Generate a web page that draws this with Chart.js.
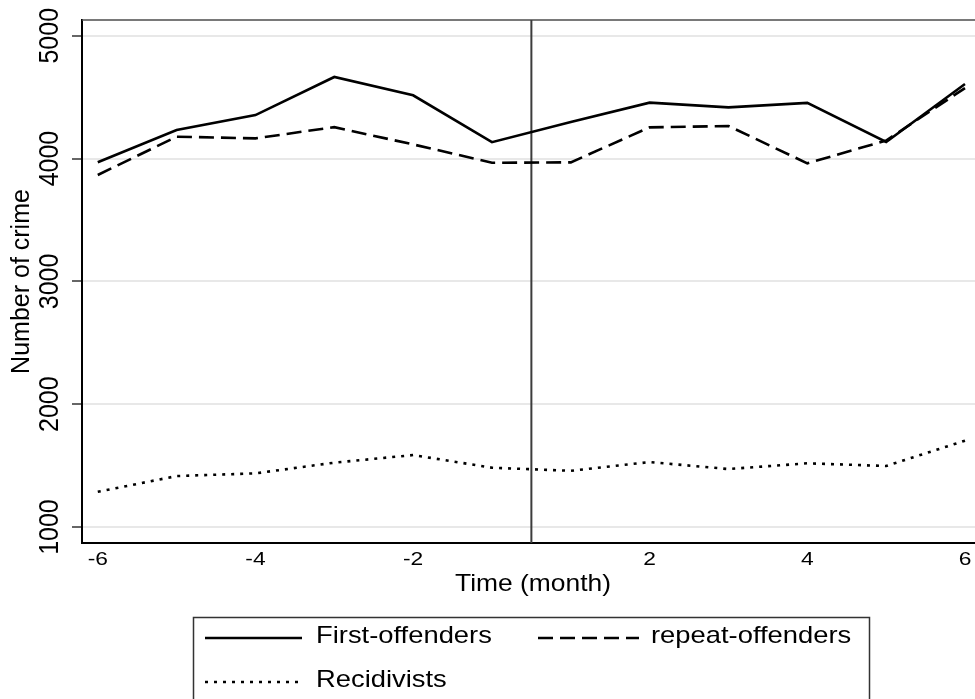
<!DOCTYPE html>
<html>
<head>
<meta charset="utf-8">
<script src="https://cdn.jsdelivr.net/npm/chart.js@4.4.1/dist/chart.umd.min.js"></script>
<style>
  html, body { margin: 0; padding: 0; background: #fff; overflow: hidden; }
  #wrap { width: 975px; height: 699px; position: relative; }
</style>
</head>
<body>
<div id="wrap"><canvas id="c" width="975" height="699"></canvas></div>
<script>
// Months relative to the event (month 0 itself has no observation)
const months = [-6, -5, -4, -3, -2, -1, 1, 2, 3, 4, 5, 6];

// Monthly crime counts per offender group
const firstOffenders  = [3970, 4232, 4354, 4664, 4515, 4133, 4297, 4455, 4417, 4453, 4135, 4607];
const repeatOffenders = [3866, 4178, 4164, 4256, 4115, 3966, 3969, 4254, 4265, 3961, 4147, 4574];
const recidivists     = [1287, 1415, 1437, 1524, 1586, 1483, 1458, 1529, 1472, 1519, 1497, 1703];

const seriesNames = ['First-offenders', 'repeat-offenders', 'Recidivists'];

// Axis tick labels
const xTickLabels = [-6, -4, -2, 2, 4, 6];
const yTickValues = [1000, 2000, 3000, 4000, 5000];

const FONT = '"Liberation Sans", Arial, Helvetica, sans-serif';

// Observations sit at consecutive positions; month 0 falls between -1 and 1
const posOf = m => months.indexOf(m);
const eventPos = months.findIndex(m => m > 0) - 0.5;
const toPoints = arr => months.map((m, i) => ({ x: posOf(m), y: arr[i] }));

function putText(ctx, str, x, y, size, rot, sx, align) {
  ctx.save();
  ctx.translate(x, y);
  ctx.scale(sx || 1, 1);
  ctx.rotate(rot || 0);
  ctx.font = size + 'px ' + FONT;
  ctx.textAlign = align || 'center';
  ctx.textBaseline = 'middle';
  ctx.fillStyle = '#000';
  ctx.fillText(str, 0, 0);
  ctx.restore();
}

const framePlugin = {
  id: 'frame',
  beforeDatasetsDraw(chart) {
    const { ctx, chartArea: a, scales } = chart;
    ctx.save();
    // top frame line
    ctx.strokeStyle = '#4d4d4d';
    ctx.lineWidth = 1.5;
    ctx.beginPath();
    ctx.moveTo(a.left, a.top);
    ctx.lineTo(a.right, a.top);
    ctx.stroke();
    // reference line at month 0
    const xe = scales.x.getPixelForValue(eventPos);
    ctx.strokeStyle = '#3c3c3c';
    ctx.lineWidth = 2;
    ctx.beginPath();
    ctx.moveTo(xe, a.top);
    ctx.lineTo(xe, a.bottom);
    ctx.stroke();
    ctx.restore();
  },
  afterDraw(chart) {
    const { ctx, chartArea: a, scales } = chart;
    // y tick labels (rotated)
    scales.y.ticks.forEach(t => {
      putText(ctx, String(t.value), 50, scales.y.getPixelForValue(t.value), 25, -Math.PI / 2, 1.1);
    });
    // x tick labels
    scales.x.ticks.forEach(t => {
      putText(ctx, String(months[t.value]), scales.x.getPixelForValue(t.value), 560, 19, 0, 1.2);
    });
    // axis titles
    putText(ctx, 'Number of crime', 22, (a.top + a.bottom) / 2, 25, -Math.PI / 2, 1.05);
    putText(ctx, 'Time (month)', 533, 584, 24, 0, 1.1);

    // legend
    ctx.save();
    ctx.strokeStyle = '#333';
    ctx.lineWidth = 1.5;
    ctx.strokeRect(193.5, 617.5, 676, 110);
    const slots = [
      { x0: 205, x1: 302, tx: 316, y: 636 },
      { x0: 538, x1: 639, tx: 651, y: 636 },
      { x0: 205, x1: 302, tx: 316, y: 680 }
    ];
    chart.data.datasets.forEach((ds, i) => {
      const s = slots[i];
      ctx.save();
      ctx.strokeStyle = ds.borderColor;
      ctx.lineWidth = ds.borderWidth;
      ctx.lineCap = 'butt';
      ctx.setLineDash(ds.borderDash || []);
      ctx.beginPath();
      ctx.moveTo(s.x0, s.y + 2);
      ctx.lineTo(s.x1, s.y + 2);
      ctx.stroke();
      ctx.restore();
      putText(ctx, ds.label, s.tx, s.y, 24, 0, 1.14, 'left');
    });
    ctx.restore();
  }
};

const lineStyle = dash => ({
  borderColor: '#000',
  borderWidth: 2.6,
  borderDash: dash,
  borderCapStyle: 'butt',
  pointRadius: 0,
  tension: 0,
  fill: false
});

new Chart(document.getElementById('c'), {
  type: 'line',
  data: {
    datasets: [
      { label: seriesNames[0], data: toPoints(firstOffenders), ...lineStyle([]) },
      { label: seriesNames[1], data: toPoints(repeatOffenders), ...lineStyle([15, 7]) },
      { label: seriesNames[2], data: toPoints(recidivists), ...lineStyle([3, 6]) }
    ]
  },
  options: {
    responsive: false,
    animation: false,
    devicePixelRatio: 1,
    layout: { padding: { top: 20, right: 0, bottom: 0, left: 0 } },
    plugins: { legend: { display: false }, tooltip: { enabled: false } },
    scales: {
      x: {
        type: 'linear',
        min: -0.2,
        max: 11.127,
        afterFit(s) { s.height = 156; },
        afterBuildTicks(s) { s.ticks = xTickLabels.map(m => ({ value: posOf(m) })); },
        ticks: { display: false },
        grid: { color: 'rgba(0,0,0,0)', drawTicks: false },
        border: { color: '#000', width: 2 }
      },
      y: {
        min: 870,
        max: 5128,
        afterFit(s) { s.width = 82; },
        afterBuildTicks(s) { s.ticks = yTickValues.map(v => ({ value: v })); },
        ticks: { display: false },
        grid: { color: '#e8e8e8', lineWidth: 2, drawTicks: true, tickLength: 10, tickColor: '#333', tickWidth: 1.5 },
        border: { color: '#000', width: 2 }
      }
    }
  },
  plugins: [framePlugin]
});
</script>
</body>
</html>
